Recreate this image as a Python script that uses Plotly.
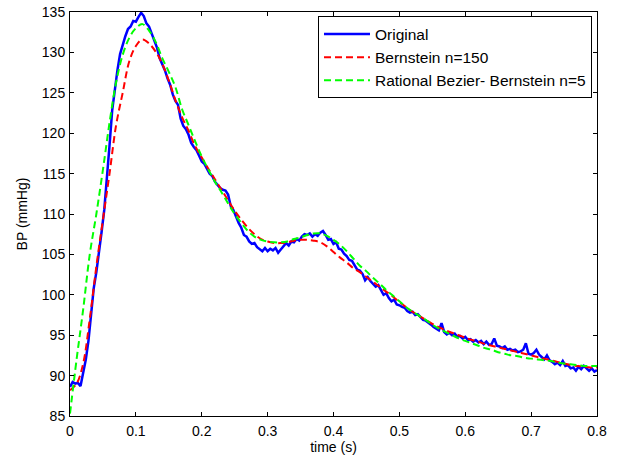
import numpy as np
import plotly.graph_objects as go

# Measured blood pressure waveform (mmHg), sampled every 4 ms from 0 to 0.8 s
bp_original = [
    88.6, 89.2, 89.0, 89.1, 88.7, 90.2, 92.0, 94.3, 97.5, 100.8,
    102.8, 105.0, 107.8, 110.5, 114.2, 118.5, 122.8, 125.6, 127.8, 129.8,
    131.0, 132.0, 132.9, 133.2, 133.9, 133.8, 134.4, 134.9, 134.5, 133.6,
    133.2, 132.3, 131.5, 130.6, 129.3, 128.6, 127.8, 126.8, 126.0, 124.8,
    124.0, 123.5, 121.8, 120.9, 120.5, 119.8, 118.8, 118.3, 117.9, 117.2,
    116.5, 116.2, 115.6, 115.0, 114.7, 114.0, 113.6, 113.2, 113.0, 112.9,
    112.4, 111.0, 110.5, 109.6, 108.9, 108.3, 107.4, 107.2, 106.6, 106.3,
    106.4, 105.9, 105.7, 105.4, 105.8, 105.4, 105.7, 105.5, 105.8, 105.2,
    105.6, 106.0, 106.4, 106.1, 106.6, 106.5, 106.9, 106.7, 107.2, 107.5,
    107.4, 107.6, 107.2, 107.5, 107.3, 107.7, 107.9, 107.4, 106.8, 106.9,
    106.3, 106.5, 105.7, 105.6, 105.1, 104.8, 104.3, 104.2, 103.6, 103.1,
    103.0, 102.6, 101.8, 102.2, 101.7, 101.4, 101.0, 101.2, 100.6, 100.0,
    100.2, 99.6, 99.2, 99.4, 98.8, 98.7, 98.5, 98.4, 98.0, 97.8,
    97.9, 97.5, 97.6, 97.2, 96.9, 96.8, 96.6, 96.3, 96.0, 95.8,
    95.6, 96.5, 95.4, 95.1, 95.3, 95.0, 95.2, 94.8, 94.9, 94.6,
    94.8, 94.4, 94.5, 94.2, 94.4, 94.1, 94.3, 93.9, 94.2, 93.8,
    93.9, 94.6, 93.7, 93.6, 93.4, 93.6, 93.2, 93.3, 93.1, 93.2,
    92.9, 93.0, 93.2, 94.0, 92.7, 92.6, 92.8, 93.2, 92.6, 92.3,
    92.0, 92.5, 91.9, 91.7, 91.4, 91.6, 91.3, 91.8, 91.2, 91.3,
    90.9, 91.0, 90.6, 91.1, 90.8, 91.2, 90.9, 90.6, 90.9, 90.5,
    90.7,
]
t_original = np.linspace(0.0, 0.8, len(bp_original))

# Approximations evaluated every 10 ms
t_fit = np.linspace(0.0, 0.8, 81)
bp_bernstein = [
    88.2, 89.0, 91.5, 97.0, 103.5, 109.3, 115.0, 121.0, 125.0, 128.9,
    130.8, 131.6, 131.1, 130.1, 128.6, 126.5, 124.1, 122.0, 120.3, 118.4,
    117.0, 115.6, 114.3, 113.0, 111.7, 110.4, 109.3, 108.3, 107.5, 106.9,
    106.6, 106.4, 106.4, 106.5, 106.7, 106.8, 106.8, 106.7, 106.5, 106.0,
    105.3, 104.6, 104.0, 103.3, 102.8, 102.2, 101.6, 101.0, 100.4, 99.8,
    99.1, 98.5, 97.9, 97.4, 96.9, 96.4, 96.0, 95.6, 95.3, 95.0,
    94.7, 94.4, 94.2, 93.9, 93.7, 93.5, 93.3, 93.1, 92.9, 92.7,
    92.5, 92.3, 92.1, 91.9, 91.7, 91.5, 91.3, 91.2, 91.1, 91.0,
    91.0,
]
bp_rational = [
    85.3, 92.0, 98.2, 105.0, 110.0, 115.5, 121.3, 126.3, 129.7, 131.8,
    133.0, 133.5, 132.7, 131.3, 129.3, 127.6, 125.7, 123.0, 121.0, 119.0,
    117.1, 115.5, 114.0, 112.7, 111.3, 110.0, 108.9, 107.9, 107.2, 106.8,
    106.6, 106.5, 106.5, 106.6, 106.9, 107.1, 107.4, 107.6, 107.6, 107.3,
    106.8, 106.2, 105.4, 104.5, 103.6, 102.9, 102.1, 101.4, 100.6, 99.9,
    99.2, 98.5, 97.9, 97.4, 96.9, 96.3, 95.8, 95.4, 95.0, 94.6,
    94.3, 94.0, 93.7, 93.4, 93.2, 92.9, 92.7, 92.5, 92.4, 92.2,
    92.1, 92.0, 91.9, 91.8, 91.6, 91.5, 91.4, 91.3, 91.2, 91.2,
    91.2,
]

font_family = "Liberation Sans, Arial, sans-serif"
label_font = dict(family=font_family, size=14, color="black")
legend_font = dict(family=font_family, size=15.5, color="black")

fig = go.Figure()
fig.add_trace(go.Scatter(
    x=t_original, y=bp_original, mode="lines", name="Original",
    line=dict(color="#0000FF", width=2.5),
))
fig.add_trace(go.Scatter(
    x=t_fit, y=bp_bernstein, mode="lines", name="Bernstein n=150",
    line=dict(color="#FF0000", width=2, dash="7px,4px", shape="spline"),
))
fig.add_trace(go.Scatter(
    x=t_fit, y=bp_rational, mode="lines", name="Rational Bezier- Bernstein n=5",
    line=dict(color="#00FF00", width=2, dash="7px,4px", shape="spline"),
))

axis_common = dict(
    showline=True, linecolor="black", linewidth=1, mirror="ticks",
    ticks="inside", ticklen=4, tickcolor="black",
    showgrid=False, zeroline=False, automargin=False,
    tickfont=label_font,
)

fig.update_xaxes(
    range=[0, 0.8], tick0=0, dtick=0.1, ticklabelstandoff=2,
    title=dict(text="time (s)", font=label_font, standoff=4),
    **axis_common,
)
fig.update_yaxes(
    range=[85, 135], tick0=85, dtick=5, ticklabelstandoff=1,
    title=dict(text="BP (mmHg)", font=label_font, standoff=10),
    **axis_common,
)

fig.update_layout(
    width=618, height=461,
    margin=dict(l=70, r=21, t=12, b=45),
    paper_bgcolor="white", plot_bgcolor="white",
    font=label_font,
    legend=dict(
        x=0.9905, y=0.989, xanchor="right", yanchor="top",
        bgcolor="white", bordercolor="black", borderwidth=1,
        font=legend_font, itemwidth=46,
        tracegroupgap=0,
    ),
    showlegend=True,
)

fig.write_html("out.html")
